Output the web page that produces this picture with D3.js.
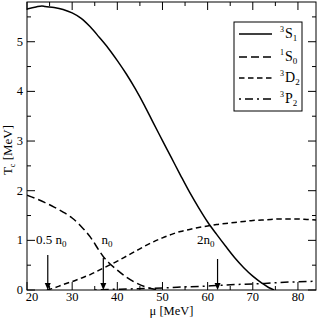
<!DOCTYPE html>
<html><head><meta charset="utf-8">
<script src="https://cdn.jsdelivr.net/npm/d3@7"></script>
<style>body{margin:0;background:#fff}</style>
</head><body><svg id="c" width="319" height="319" style="font-family:'Liberation Serif'"></svg>
<script>
// Data
const mu3S1 = [20,22,23.3,24,26,28,30,32,34,36,38,40,42,44,46,48,50,52,54,56,58,60,62,64,66,68,70,72,73.5,74.7];
const t3S1  = [5.66,5.70,5.72,5.71,5.69,5.65,5.58,5.47,5.30,5.09,4.87,4.62,4.35,4.05,3.72,3.36,3.01,2.66,2.31,1.97,1.66,1.37,1.12,0.88,0.65,0.45,0.28,0.14,0.05,0];
const mu1S0 = [20,22,24,26,28,30,32,34,36,37,38,40,42,44,46,48,49.5];
const t1S0  = [1.91,1.84,1.76,1.67,1.57,1.45,1.28,1.07,0.79,0.66,0.56,0.40,0.26,0.15,0.07,0.02,0];
const mu3D2 = [24.4,26,28,30,32,34,36,38,40,42,44,46,48,50,52,54,56,58,60,62,64,66,68,70,72,74,76,78,80,82,84];
const t3D2  = [0,0.04,0.11,0.17,0.24,0.31,0.40,0.49,0.58,0.68,0.78,0.88,0.97,1.05,1.12,1.18,1.22,1.26,1.29,1.32,1.34,1.36,1.38,1.40,1.41,1.42,1.43,1.43,1.43,1.42,1.41];
const mu3P2 = [35,38,42,46,50,54,58,62,66,70,74,78,82,84];
const t3P2  = [0,0.01,0.02,0.03,0.04,0.06,0.07,0.09,0.11,0.12,0.14,0.16,0.17,0.18];
const arrowMu = [24.6,36.9,62.2];
const arrowLabels = [["0.5 n","0"],["n","0"],["2n","0"]];
const xTicks = [20,30,40,50,60,70,80];
const yTicks = [0,1,2,3,4,5];
const legendNames = [["3","S","1"],["1","S","0"],["3","D","2"],["3","P","2"]];

const FONT = '"Liberation Serif"';
const svg = d3.select("#c");
const txt = (sel)=>sel.append("text").style("font-family",FONT).attr("fill","#000");
const L=27,R=316,T=2,B=290;
const x = d3.scaleLinear().domain([20,84]).range([L,R]);
const y = d3.scaleLinear().domain([0,5.8]).range([B,T]);

const dashes = [null,"8,4","5.5,3.5","2,4,8,4"];
const series = [[mu3S1,t3S1],[mu1S0,t1S0],[mu3D2,t3D2],[mu3P2,t3P2]];
const line = d3.line().x(d=>x(d[0])).y(d=>y(d[1])).curve(d3.curveMonotoneX);
svg.append("clipPath").attr("id","cp").append("rect").attr("x",L).attr("y",T).attr("width",R-L).attr("height",B-T);
series.forEach((s,i)=>{
  const pts = s[0].map((m,j)=>[m,s[1][j]]);
  svg.append("path").attr("d",line(pts)).attr("fill","none").attr("stroke","#000")
    .attr("stroke-width",1.5).attr("stroke-dasharray",dashes[i]).attr("clip-path","url(#cp)");
});

// frame and ticks
svg.append("rect").attr("x",L).attr("y",T).attr("width",R-L).attr("height",B-T).attr("fill","none").attr("stroke","#000").attr("stroke-width",1);
const xMinor = d3.range(20,85,5), yMinor = d3.range(0,5.81,0.5);
const g = svg.append("g").attr("stroke","#000").attr("stroke-width",1);
xMinor.forEach(v=>{
  const len = (v%10===0)?8:4;
  g.append("line").attr("x1",x(v)).attr("x2",x(v)).attr("y1",B).attr("y2",B-len);
  g.append("line").attr("x1",x(v)).attr("x2",x(v)).attr("y1",T).attr("y2",T+len);
});
yMinor.forEach(v=>{
  const len = (Math.abs(v-Math.round(v))<1e-6)?8:4;
  g.append("line").attr("y1",y(v)).attr("y2",y(v)).attr("x1",L).attr("x2",L+len);
  g.append("line").attr("y1",y(v)).attr("y2",y(v)).attr("x1",R).attr("x2",R-len);
});
xTicks.forEach(v=>{
  txt(svg).attr("x",x(v)+(v===20?5:0)).attr("y",301).attr("text-anchor","middle").attr("font-size",12.5).text(v);
});
yTicks.forEach(v=>{
  txt(svg).attr("x",23).attr("y",y(v)+4).attr("text-anchor","end").attr("font-size",12.5).text(v);
});
// axis titles
txt(svg).attr("x",(L+R)/2).attr("y",315).attr("text-anchor","middle").attr("font-size",12.5).text("μ [MeV]");
const yl = txt(svg).attr("transform","translate(12,150) rotate(-90)").attr("text-anchor","middle").attr("font-size",13);
yl.append("tspan").text("T");
yl.append("tspan").attr("font-size",8).attr("dy",3).text("c");
yl.append("tspan").attr("dy",-3).text(" [MeV]");

// arrows
const arrowTop = [255,258,259];
const labelX = [36,101.5,197];
arrowMu.forEach((m,i)=>{
  svg.append("line").attr("x1",x(m)).attr("x2",x(m)).attr("y1",arrowTop[i]).attr("y2",B-5).attr("stroke","#000").attr("stroke-width",1.2);
  svg.append("path").attr("d",`M${x(m)-3},${B-7}L${x(m)+3},${B-7}L${x(m)},${B}Z`).attr("fill","#000");
  const t = txt(svg).attr("x",labelX[i]).attr("y",243.5).attr("font-size",13);
  t.append("tspan").text(arrowLabels[i][0]);
  t.append("tspan").attr("font-size",9).attr("dy",3.5).text(arrowLabels[i][1]);
});

// legend
svg.append("rect").attr("x",234).attr("y",22).attr("width",68).attr("height",89).attr("fill","#fff").attr("stroke","#000").attr("stroke-width",1);
const ly = [34,57,78,99];
legendNames.forEach((n,i)=>{
  svg.append("line").attr("x1",239).attr("x2",272).attr("y1",ly[i]).attr("y2",ly[i]).attr("stroke","#000").attr("stroke-width",1.5).attr("stroke-dasharray",dashes[i]);
  const t = txt(svg).attr("x",280).attr("y",ly[i]+4).attr("font-size",14);
  t.append("tspan").attr("font-size",8).attr("dy",-6).text(n[0]);
  t.append("tspan").attr("dy",6).attr("dx",1).text(n[1]);
  t.append("tspan").attr("font-size",9).attr("dy",3).text(n[2]);
});
</script></body></html>
